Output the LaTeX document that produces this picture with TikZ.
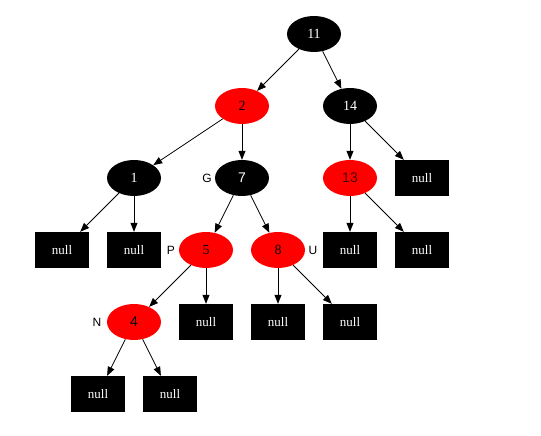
\documentclass[tikz,border=0pt]{standalone}
\usepackage{fontspec}
\setmainfont{Liberation Serif}
\newfontfamily\sansf{Liberation Sans}
\usetikzlibrary{shapes.geometric,arrows.meta}
\begin{document}
\begin{tikzpicture}[x=1pt,y=1pt,
  bn/.style={ellipse,fill=black,minimum width=54pt,minimum height=36pt,inner sep=0pt,text=white,font=\fontsize{14}{16}\selectfont},
  rn/.style={ellipse,fill=red,minimum width=54pt,minimum height=36pt,inner sep=0pt,text=black,font=\fontsize{14}{16}\selectfont},
  nl/.style={rectangle,fill=black,minimum width=54pt,minimum height=36pt,inner sep=0pt,text=white,font=\fontsize{13}{15}\selectfont},
  lab/.style={font=\sansf\fontsize{12}{14}\selectfont,inner sep=0pt},
  ed/.style={-{Triangle[length=9pt,width=7pt]},line width=0.8pt}]
\useasboundingbox (0,0) rectangle (541,436);
\node[bn] (n11) at (314,402) {11};
\node[rn] (n2) at (242,330) {2};
\node[bn] (n14) at (350,330) {14};
\node[bn] (n1) at (134,258) {1};
\node[bn,font=\sansf\fontsize{14}{16}\selectfont] (n7) at (242,258) {7};
\node[rn,text=black!70!red,font=\sansf\fontsize{14}{16}\selectfont] (n13) at (350,258) {13};
\node[nl] (z1) at (422,258) {null};
\node[nl] (z2) at (62,186) {null};
\node[nl] (z3) at (134,186) {null};
\node[rn] (n5) at (206,186) {5};
\node[rn] (n8) at (278,186) {8};
\node[nl] (z4) at (350,186) {null};
\node[nl] (z5) at (422,186) {null};
\node[rn,font=\sansf\fontsize{14}{16}\selectfont] (n4) at (134,114) {4};
\node[nl] (z6) at (206,114) {null};
\node[nl] (z7) at (278,114) {null};
\node[nl] (z8) at (350,114) {null};
\node[nl] (z9) at (98,42) {null};
\node[nl] (z10) at (170,42) {null};
\node[lab] (lg) at (207,258) {G};
\node[lab] (lp) at (171,186) {P};
\node[lab] (lu) at (313,186) {U};
\node[lab] (ln) at (97,114) {N};
\draw[ed] (n11) -- (n2);
\draw[ed] (n11) -- (n14);
\draw[ed] (n2) -- (n1);
\draw[ed] (n2) -- (n7);
\draw[ed] (n14) -- (n13);
\draw[ed] (n14) -- (z1);
\draw[ed] (n1) -- (z2);
\draw[ed] (n1) -- (z3);
\draw[ed] (n7) -- (n5);
\draw[ed] (n7) -- (n8);
\draw[ed] (n13) -- (z4);
\draw[ed] (n13) -- (z5);
\draw[ed] (n5) -- (n4);
\draw[ed] (n5) -- (z6);
\draw[ed] (n8) -- (z7);
\draw[ed] (n8) -- (z8);
\draw[ed] (n4) -- (z9);
\draw[ed] (n4) -- (z10);
\end{tikzpicture}
\end{document}
